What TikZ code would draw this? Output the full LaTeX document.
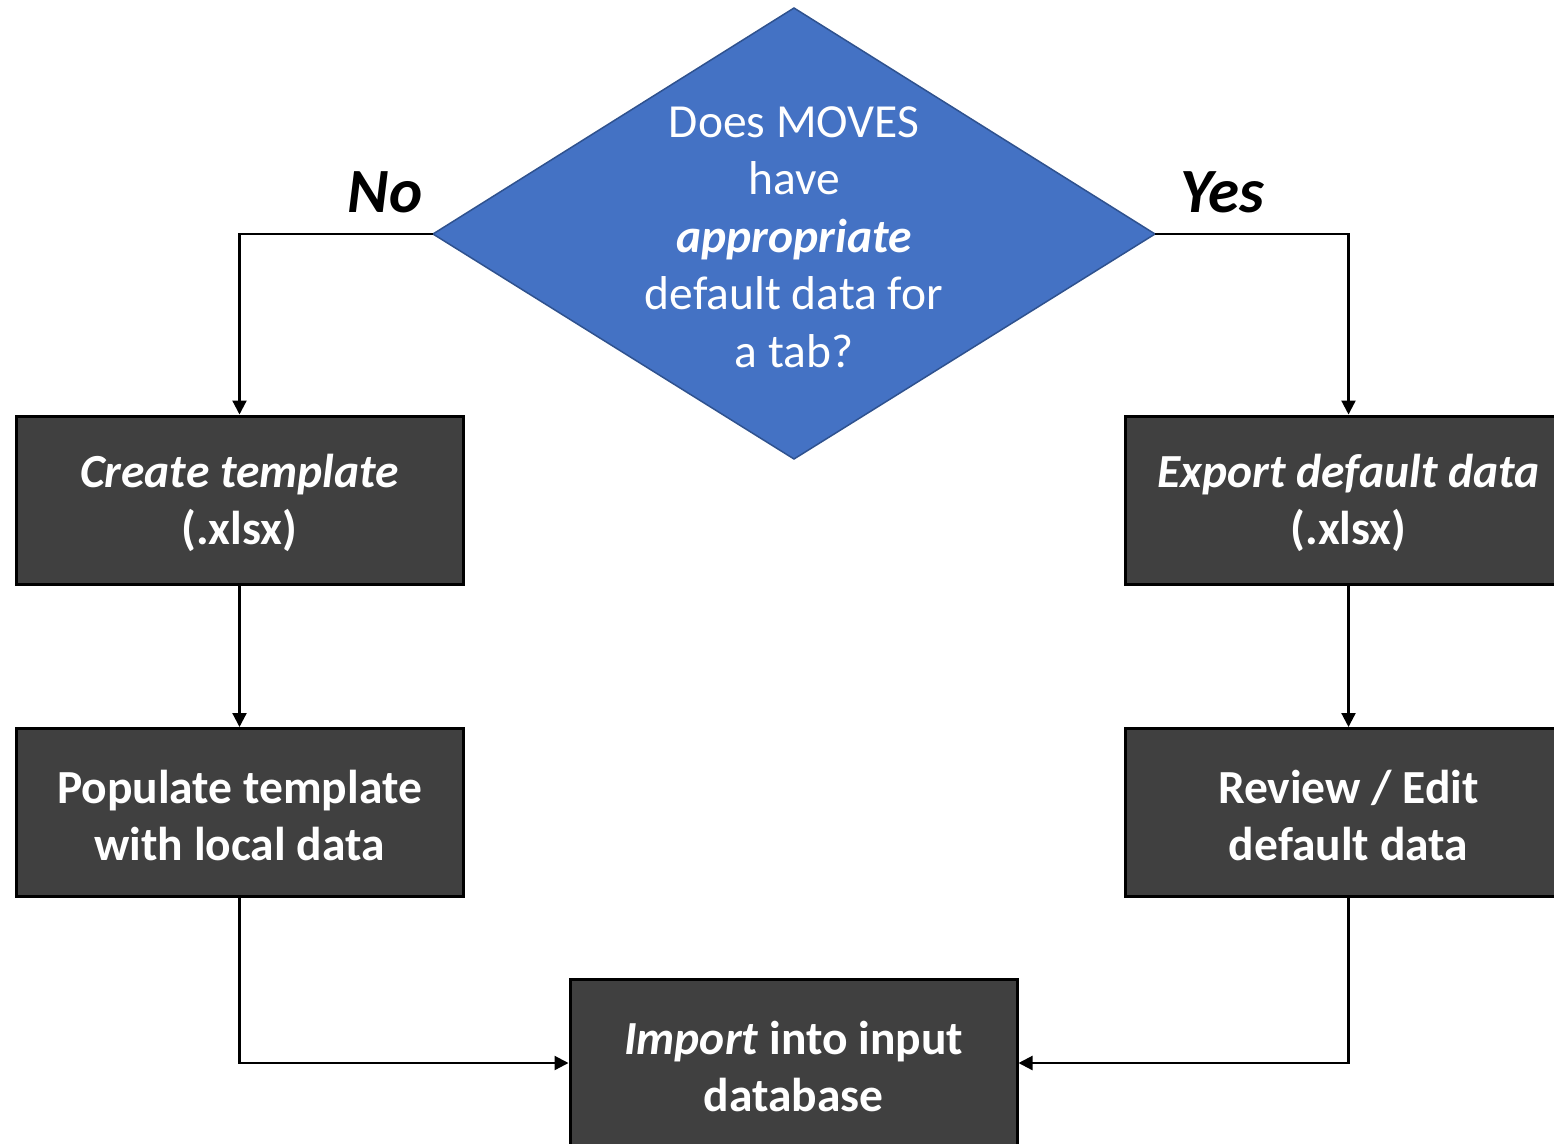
\documentclass[tikz,border=0pt]{standalone}
\usepackage{fontspec}
\setmainfont{Carlito}
\usetikzlibrary{shapes.geometric,arrows.meta}
\definecolor{dia}{HTML}{4472C4}
\definecolor{diaborder}{HTML}{2F528F}
\definecolor{boxfill}{HTML}{404040}
\begin{document}
\begin{tikzpicture}[x=1pt,y=-1pt,
  stepbox/.style={draw=black,line width=3pt,fill=boxfill,text=white,minimum width=447pt,minimum height=168pt,inner sep=0pt,align=center,font=\fontsize{47.5}{57}\selectfont\bfseries},
  steptext/.style={text=white,align=center,font=\fontsize{47.5}{57}\selectfont\bfseries,yshift=-3pt},
  conn/.style={line width=2.2pt,-{Triangle[length=14pt,width=14pt]}},
  lbl/.style={font=\fontsize{63}{65}\selectfont\bfseries\itshape}]
\useasboundingbox (0,0) rectangle (1554,1143);
\clip (0,0) rectangle (1554,1143);
\draw[fill=dia,draw=diaborder,line width=1.5pt] (794,8) coordinate (dt) -- (1155,234) coordinate (dr) -- (794,459) coordinate (db) -- (433,234) coordinate (dl) -- cycle;
\node[text=white,align=center,font=\fontsize{47.5}{57.5}\selectfont] (q) at (794,237) {Does MOVES\\have\\\textbf{\textit{appropriate}}\\default data for\\a tab?};
\node[stepbox] (c) at (239.5,500) {};
\node[steptext] (ct) at (c) {\textit{Create template}\\(.xlsx)};
\node[stepbox] (p) at (239.5,812.5) {};
\node[steptext] (pt) at (p) {Populate template\\with local data};
\node[stepbox] (e) at (1348.5,500) {};
\node[steptext] (et) at (e) {\textit{Export default data}\\(.xlsx)};
\node[stepbox] (r) at (1348.5,812.5) {};
\node[steptext] (rt) at (r) {Review / Edit\\default data};
\node[stepbox] (i) at (793.5,1063) {};
\node[steptext] (it) at (i) {\textit{Import} into input\\database};
\node[lbl] (no) at (385,192) {No};
\node[lbl] (yes) at (1222,192) {Yes};
\draw[conn] (dl) -| (c.north);
\draw[conn] (dr) -| (e.north);
\draw[conn] (c) -- (p);
\draw[conn] (e) -- (r);
\draw[conn] (p.south) |- (i.west);
\draw[conn] (r.south) |- (i.east);
\end{tikzpicture}
\end{document}
